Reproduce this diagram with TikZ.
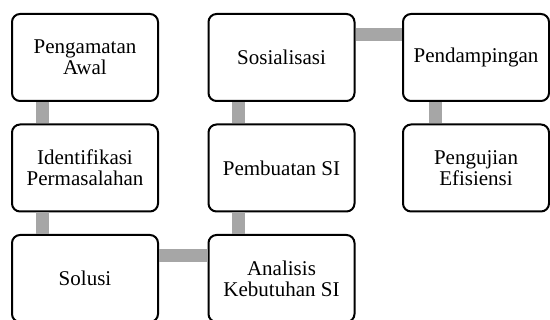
\documentclass[tikz,border=0pt]{standalone}
\usepackage{fontspec}
\setmainfont{Liberation Serif}
\begin{document}
\begin{tikzpicture}[x=1pt,y=1pt,
  box/.style={draw=black, line width=2pt, rounded corners=8pt, fill=white,
    minimum width=146pt, minimum height=87pt, align=center, inner sep=2pt,
    font=\fontsize{21}{21}\selectfont},
  conn/.style={draw=black!35, line width=13pt}]
\useasboundingbox (0,0) rectangle (550,320);
\clip (0,0) rectangle (550,320);
\node[box] (a) at (85,262.5) {Pengamatan\\Awal};
\node[box] (b) at (85,152) {Identifikasi\\Permasalahan};
\node[box] (c) at (85,41.5) {Solusi};
\node[box] (d) at (281.5,41.5) {Analisis\\Kebutuhan SI};
\node[box] (e) at (281.5,152) {Pembuatan SI};
\node[box] (f) at (281.5,262.5) {Sosialisasi};
\node[box] (g) at (476,262.5) {Pendampingan};
\node[box] (h) at (476,152) {Pengujian\\Efisiensi};
\draw[conn] ([xshift=-43pt]a.south) -- ([xshift=-43pt]b.north);
\draw[conn] ([xshift=-43pt]b.south) -- ([xshift=-43pt]c.north);
\draw[conn] ([yshift=-22pt]c.north east) -- ([yshift=-22pt]d.north west);
\draw[conn] ([xshift=-43pt]d.north) -- ([xshift=-43pt]e.south);
\draw[conn] ([xshift=-43pt]e.north) -- ([xshift=-43pt]f.south);
\draw[conn] ([yshift=-22pt]f.north east) -- ([yshift=-22pt]g.north west);
\draw[conn] ([xshift=-41pt]g.south) -- ([xshift=-41pt]h.north);
\end{tikzpicture}
\end{document}
